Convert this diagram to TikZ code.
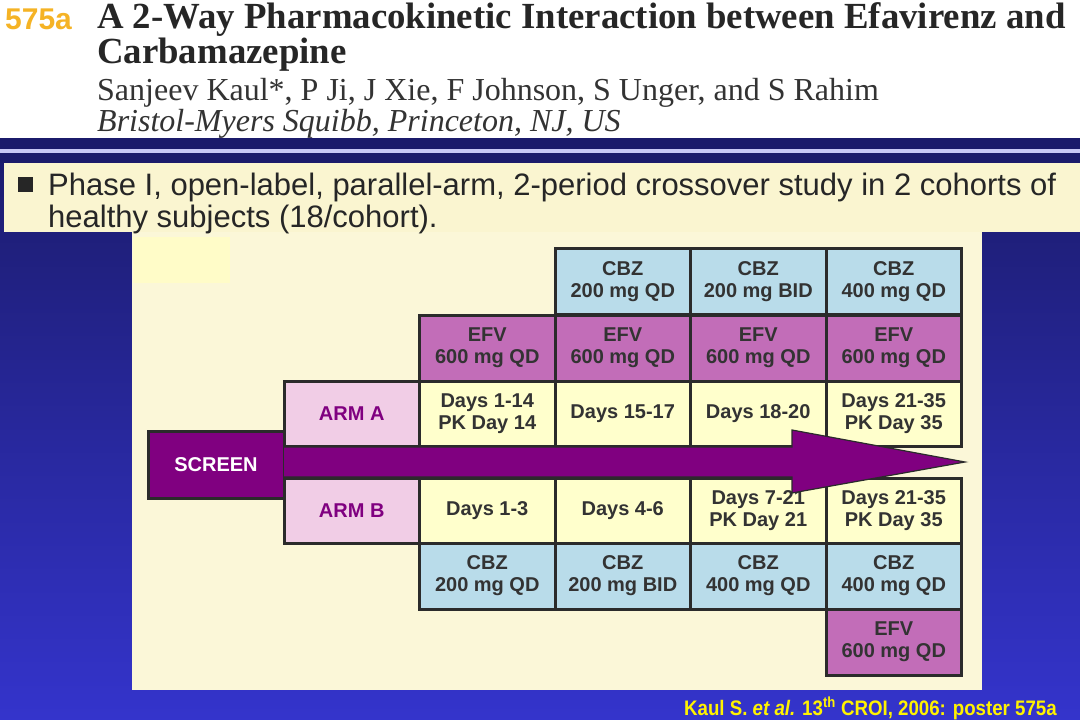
\documentclass[tikz,border=0pt]{standalone}
\usepackage{fontspec}
\setmainfont{Liberation Serif}
\newfontfamily\arial{Liberation Sans}
\newfontfamily\narrow[FakeStretch=0.89]{Liberation Sans}
\definecolor{navy}{HTML}{1B1B6B}
\definecolor{bluebot}{HTML}{3434CC}
\definecolor{lav}{HTML}{C8C8F5}
\definecolor{bulletbg}{HTML}{FAF5D0}
\definecolor{panel}{HTML}{FBF7D8}
\definecolor{lightyel}{HTML}{FFFCC8}
\definecolor{dayc}{HTML}{FFFFCC}
\definecolor{cbzc}{HTML}{B9DCEA}
\definecolor{efvc}{HTML}{C26DB8}
\definecolor{armc}{HTML}{F1CDE6}
\definecolor{purp}{HTML}{800080}
\definecolor{bord}{HTML}{2B2B2B}
\definecolor{txt}{HTML}{333333}
\definecolor{orangey}{HTML}{F5B325}
\begin{document}
\begin{tikzpicture}[x=1pt,y=-1pt,
  cell/.style={draw=bord, line width=3pt, minimum width=135.5pt, minimum height=66pt, inner sep=0pt, align=center, text=txt, font=\arial\bfseries\fontsize{20}{22}\selectfont},
  cbz/.style={cell, fill=cbzc},
  efv/.style={cell, fill=efvc},
  days/.style={cell, fill=dayc},
  arm/.style={cell, fill=armc, text=purp},
  rowa/.style={minimum height=65pt},
  auth/.style={anchor=base west, inner sep=0pt, font=\fontsize{32}{36}\selectfont, text=black!80},
  bul/.style={anchor=base west, inner sep=0pt, font=\arial\fontsize{31}{32}\selectfont, text=black!85}
]
\useasboundingbox (0,0) rectangle (1080,720);
% backgrounds
\fill[white] (0,0) rectangle (1080,138);
\shade[top color=navy, bottom color=bluebot] (0,138) rectangle (1080,720);
\fill[navy] (0,138) rectangle (1080,163);
\fill[lav] (0,149) rectangle (1080,153);
\fill[bulletbg] (4,163) rectangle (1080,232);
\fill[panel] (132,232) rectangle (982,690);
\fill[lightyel] (133,237) rectangle (230,283);

% header
\node[anchor=base west, inner sep=0pt, font=\arial\bfseries\fontsize{30}{32}\selectfont, text=orangey] (num) at (5,29) {575a};
\node[anchor=base west, inner sep=0pt, align=left, font=\bfseries\fontsize{36.8}{33}\selectfont, text=black!85] (title) at (97,63) {A 2-Way Pharmacokinetic Interaction between Efavirenz and\\Carbamazepine};
\node[auth] (au) at (97,100) {Sanjeev Kaul*, P Ji, J Xie, F Johnson, S Unger, and S Rahim};
\node[auth, font=\itshape\fontsize{32}{36}\selectfont] (af) at (97,131) {Bristol-Myers Squibb, Princeton, NJ, US};

% bullet
\fill[black!85] (18,177) rectangle (33,192);
\node[bul, align=left] (bl) at (48,227) {Phase I, open-label, parallel-arm, 2-period crossover study in 2 cohorts of\\healthy subjects (18/cohort).};

% table
\node[cbz] (ct2) at (622.75,281.5) {CBZ\\200 mg QD};
\node[cbz] (ct3) at (758.25,281.5) {CBZ\\200 mg BID};
\node[cbz] (ct4) at (893.75,281.5) {CBZ\\400 mg QD};

\node[efv] (et1) at (487.25,348) {EFV\\600 mg QD};
\node[efv] (et2) at (622.75,348) {EFV\\600 mg QD};
\node[efv] (et3) at (758.25,348) {EFV\\600 mg QD};
\node[efv] (et4) at (893.75,348) {EFV\\600 mg QD};

\node[arm, rowa] (arma) at (351.75,413.5) {ARM A};
\node[days, rowa] (a1) at (487.25,413.5) {Days 1-14\\PK Day 14};
\node[days, rowa] (a2) at (622.75,413.5) {Days 15-17};
\node[days, rowa] (a3) at (758.25,413.5) {Days 18-20};
\node[days, rowa] (a4) at (893.75,413.5) {Days 21-35\\PK Day 35};

\node[arm, rowa] (armb) at (351.75,510.5) {ARM B};
\node[days, rowa] (b1c) at (487.25,510.5) {Days 1-3};
\node[days, rowa] (b2c) at (622.75,510.5) {Days 4-6};
\node[days, rowa] (b3c) at (758.25,510.5) {Days 7-21\\PK Day 21};
\node[days, rowa] (b4c) at (893.75,510.5) {Days 21-35\\PK Day 35};

\node[cbz] (cb1) at (487.25,576) {CBZ\\200 mg QD};
\node[cbz] (cb2) at (622.75,576) {CBZ\\200 mg BID};
\node[cbz] (cb3) at (758.25,576) {CBZ\\400 mg QD};
\node[cbz] (cb4) at (893.75,576) {CBZ\\400 mg QD};
\node[efv] (eb4) at (893.75,642) {EFV\\600 mg QD};

\node[cell, fill=purp, text=white, minimum width=136pt, minimum height=67pt] (screen) at (216,464.5) {SCREEN};

% arrow
\coordinate (tip) at (965,462);
\fill[purp] (284,447) -- (792,447) -- (792,430) -- (tip) -- (792,493) -- (792,477) -- (284,477) -- cycle;
\draw[bord, line width=1.2pt, line join=miter] (284,447) -- (792,447) -- (792,430) -- (tip) -- (792,493) -- (792,477) -- (284,477);

% footer
\node[anchor=base east, inner sep=0pt, font=\narrow\bfseries\fontsize{21}{24}\selectfont, text=yellow] (foot) at (1057,715) {Kaul S. \textit{et al.} 13\textsuperscript{th} CROI, 2006: poster 575a};
\end{tikzpicture}
\end{document}
